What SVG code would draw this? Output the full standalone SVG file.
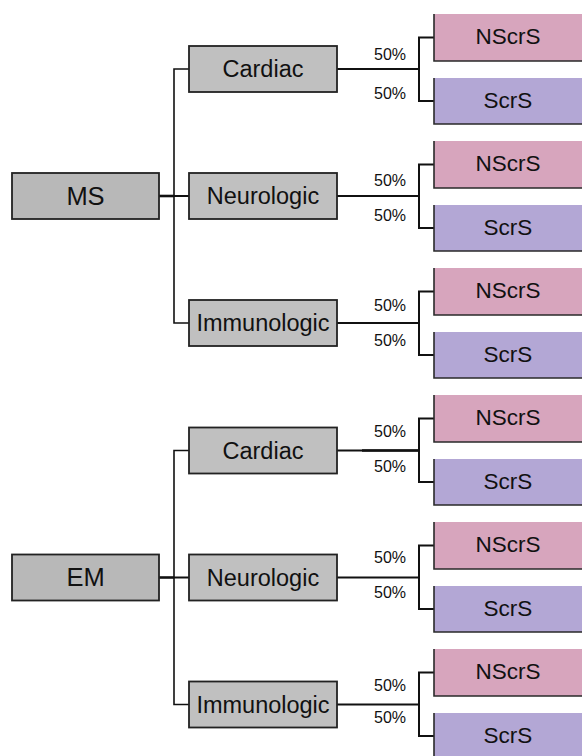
<svg xmlns="http://www.w3.org/2000/svg" width="582" height="756" viewBox="0 0 582 756">
<style>
  .root rect { fill: #b8b8b8; stroke: #222; stroke-width: 1.8; }
  .cat rect { fill: #c0c0c0; stroke: #222; stroke-width: 1.8; }
  .ns rect { fill: #d7a5bd; }
  .sc rect { fill: #b3a7d5; }
  .leaf path { fill: none; stroke: #2a2a2a; stroke-width: 1.6; }
  text { font-family: "Liberation Sans", Arial, sans-serif; fill: #111; text-anchor: middle; }
  .rt { font-size: 25.5px; }
  .ct { font-size: 23.5px; }
  .lt { font-size: 22.5px; }
  .pct { font-size: 16px; text-anchor: start; }
  .conn path { fill: none; stroke: #111; stroke-width: 2; }
  .conn .trunk { stroke-width: 1.6; }
  .conn .thick { stroke-width: 2.6; }
</style>
<rect width="582" height="756" fill="#ffffff"/>
<g id="connectors" class="conn">
  <!-- MS trunk -->
  <path class="trunk" d="M189 69 H174 V323 H189"/>
  <path class="thick" d="M159 196 H174"/>
  <path d="M174 196 H189"/>
  <!-- EM trunk -->
  <path class="trunk" d="M189 450.5 H174 V704.5 H189"/>
  <path class="thick" d="M159 577.5 H174"/>
  <path d="M174 577.5 H189"/>
  <!-- Section 1 forks -->
  <path d="M337 69 H419"/><path d="M434 37.5 H419 V101 H434"/>
  <path d="M337 196 H419"/><path d="M434 164.5 H419 V228 H434"/>
  <path d="M337 323 H419"/><path d="M434 291.5 H419 V355 H434"/>
  <!-- Section 2 forks -->
  <path d="M337 450.5 H419"/><path class="thick" d="M362 450.5 H419"/><path d="M434 418.5 H419 V482 H434"/>
  <path d="M337 577.5 H419"/><path d="M434 545.5 H419 V609 H434"/>
  <path d="M337 704.5 H419"/><path d="M434 672.5 H419 V736 H434"/>
</g>
<g id="labels">
  <text class="pct" x="374" y="60">50%</text>
  <text class="pct" x="374" y="99">50%</text>
  <text class="pct" x="374" y="186">50%</text>
  <text class="pct" x="374" y="221">50%</text>
  <text class="pct" x="374" y="311">50%</text>
  <text class="pct" x="374" y="346">50%</text>
  <text class="pct" x="374" y="437">50%</text>
  <text class="pct" x="374" y="472">50%</text>
  <text class="pct" x="374" y="563">50%</text>
  <text class="pct" x="374" y="598">50%</text>
  <text class="pct" x="374" y="691">50%</text>
  <text class="pct" x="374" y="723">50%</text>
</g>
<!-- Roots -->
<g id="ms" class="root"><rect x="12" y="173" width="147" height="46"/><text class="rt" x="85.5" y="205">MS</text></g>
<g id="em" class="root"><rect x="12" y="554.5" width="147" height="46"/><text class="rt" x="85.5" y="586">EM</text></g>
<!-- Categories section 1 -->
<g id="ms-cardiac" class="cat"><rect x="189" y="46" width="148" height="46"/><text class="ct" x="263" y="77">Cardiac</text></g>
<g id="ms-neuro" class="cat"><rect x="189" y="173" width="148" height="46"/><text class="ct" x="263" y="204">Neurologic</text></g>
<g id="ms-immuno" class="cat"><rect x="189" y="300" width="148" height="46"/><text class="ct" x="263" y="331">Immunologic</text></g>
<!-- Categories section 2 -->
<g id="em-cardiac" class="cat"><rect x="189" y="427.5" width="148" height="46"/><text class="ct" x="263" y="458.5">Cardiac</text></g>
<g id="em-neuro" class="cat"><rect x="189" y="554.5" width="148" height="46"/><text class="ct" x="263" y="585.5">Neurologic</text></g>
<g id="em-immuno" class="cat"><rect x="189" y="681.5" width="148" height="46"/><text class="ct" x="263" y="712.5">Immunologic</text></g>
<!-- Leaves section 1 -->
<g id="ms-c-ns" class="leaf ns"><rect x="434" y="14" width="148" height="47"/><path d="M434 14 V61 H582"/><text class="lt" x="508" y="44">NScrS</text></g>
<g id="ms-c-sc" class="leaf sc"><rect x="434" y="78" width="148" height="46"/><path d="M434 78 V124 H582"/><text class="lt" x="508" y="108">ScrS</text></g>
<g id="ms-n-ns" class="leaf ns"><rect x="434" y="141" width="148" height="47"/><path d="M434 141 V188 H582"/><text class="lt" x="508" y="171">NScrS</text></g>
<g id="ms-n-sc" class="leaf sc"><rect x="434" y="205" width="148" height="46"/><path d="M434 205 V251 H582"/><text class="lt" x="508" y="235">ScrS</text></g>
<g id="ms-i-ns" class="leaf ns"><rect x="434" y="268" width="148" height="47"/><path d="M434 268 V315 H582"/><text class="lt" x="508" y="298">NScrS</text></g>
<g id="ms-i-sc" class="leaf sc"><rect x="434" y="332" width="148" height="46"/><path d="M434 332 V378 H582"/><text class="lt" x="508" y="362">ScrS</text></g>
<!-- Leaves section 2 -->
<g id="em-c-ns" class="leaf ns"><rect x="434" y="395" width="148" height="47"/><path d="M434 395 V442 H582"/><text class="lt" x="508" y="425">NScrS</text></g>
<g id="em-c-sc" class="leaf sc"><rect x="434" y="459" width="148" height="46"/><path d="M434 459 V505 H582"/><text class="lt" x="508" y="489">ScrS</text></g>
<g id="em-n-ns" class="leaf ns"><rect x="434" y="522" width="148" height="47"/><path d="M434 522 V569 H582"/><text class="lt" x="508" y="552">NScrS</text></g>
<g id="em-n-sc" class="leaf sc"><rect x="434" y="586" width="148" height="46"/><path d="M434 586 V632 H582"/><text class="lt" x="508" y="616">ScrS</text></g>
<g id="em-i-ns" class="leaf ns"><rect x="434" y="649" width="148" height="47"/><path d="M434 649 V696 H582"/><text class="lt" x="508" y="679">NScrS</text></g>
<g id="em-i-sc" class="leaf sc"><rect x="434" y="713" width="148" height="46"/><path d="M434 713 V759 H582"/><text class="lt" x="508" y="743">ScrS</text></g>
</svg>
